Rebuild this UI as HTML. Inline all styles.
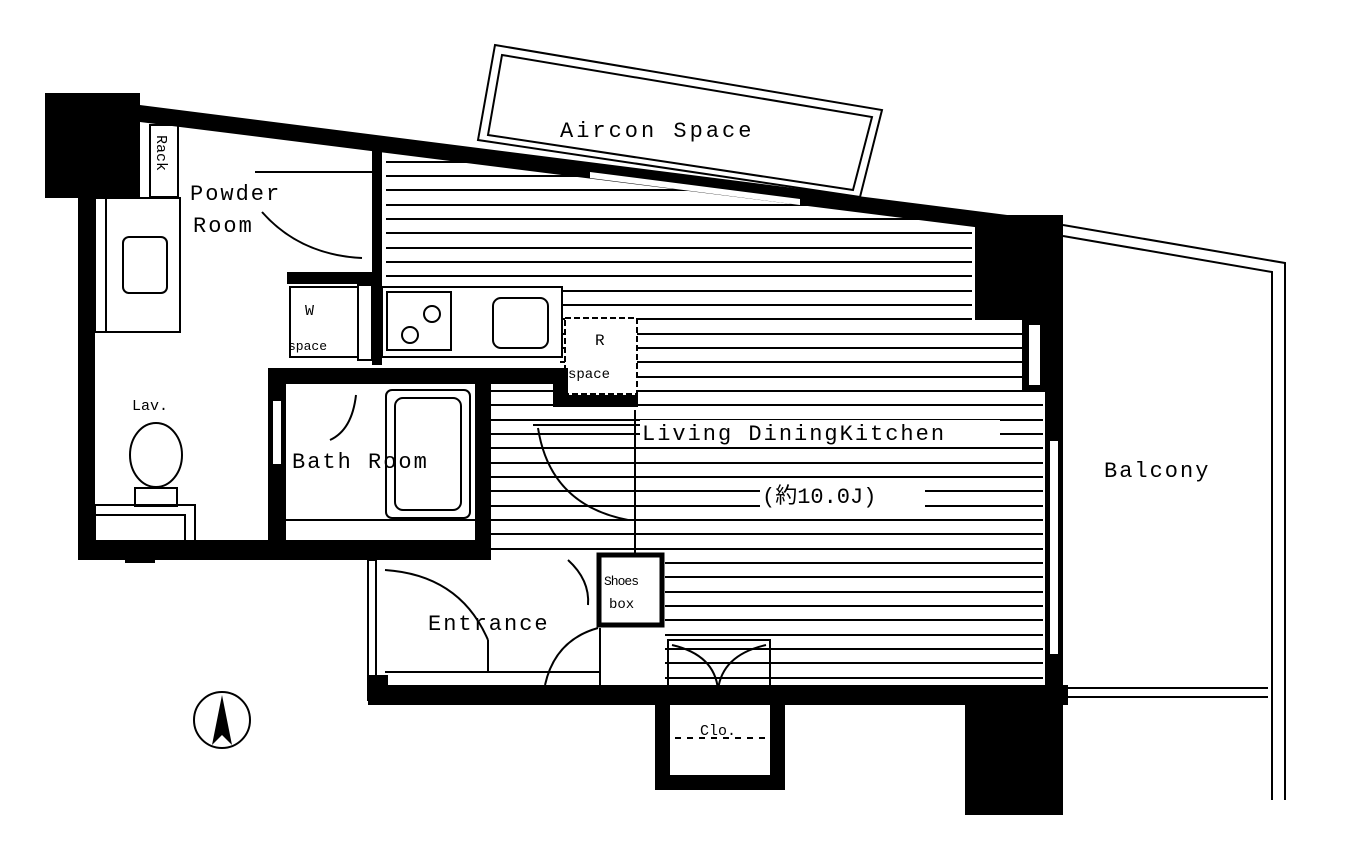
<!DOCTYPE html>
<html><head><meta charset="utf-8"><style>
html,body{margin:0;padding:0;background:#fff;}
svg{display:block;font-family:"Liberation Mono",monospace;}
text{fill:#000;}
</style></head><body>
<svg width="1363" height="867" viewBox="0 0 1363 867" xmlns="http://www.w3.org/2000/svg">
<defs>
<clipPath id="st">
<polygon points="386,150 972,225 972,320 1043,320 1043,690 665,690 665,555 490,555 490,380 560,380 560,355 386,355"/>
</clipPath>
</defs>
<rect width="1363" height="867" fill="#fff"/>
<g clip-path="url(#st)" stroke="#000" stroke-width="2">
<line x1="380" y1="162" x2="1050" y2="162"/><line x1="380" y1="176" x2="1050" y2="176"/>
<line x1="380" y1="190" x2="1050" y2="190"/><line x1="380" y1="205" x2="1050" y2="205"/>
<line x1="380" y1="219" x2="1050" y2="219"/><line x1="380" y1="233" x2="1050" y2="233"/>
<line x1="380" y1="248" x2="1050" y2="248"/><line x1="380" y1="262" x2="1050" y2="262"/>
<line x1="380" y1="276" x2="1050" y2="276"/><line x1="380" y1="291" x2="1050" y2="291"/>
<line x1="380" y1="305" x2="1050" y2="305"/><line x1="380" y1="319" x2="1050" y2="319"/>
<line x1="380" y1="334" x2="1050" y2="334"/><line x1="380" y1="348" x2="1050" y2="348"/>
<line x1="380" y1="362" x2="1050" y2="362"/><line x1="380" y1="377" x2="1050" y2="377"/>
<line x1="380" y1="391" x2="1050" y2="391"/><line x1="380" y1="405" x2="1050" y2="405"/>
<line x1="380" y1="420" x2="1050" y2="420"/><line x1="380" y1="434" x2="1050" y2="434"/>
<line x1="380" y1="448" x2="1050" y2="448"/><line x1="380" y1="463" x2="1050" y2="463"/>
<line x1="380" y1="477" x2="1050" y2="477"/><line x1="380" y1="491" x2="1050" y2="491"/>
<line x1="380" y1="506" x2="1050" y2="506"/><line x1="380" y1="520" x2="1050" y2="520"/>
<line x1="380" y1="534" x2="1050" y2="534"/><line x1="380" y1="549" x2="1050" y2="549"/>
<line x1="380" y1="563" x2="1050" y2="563"/><line x1="380" y1="577" x2="1050" y2="577"/>
<line x1="380" y1="592" x2="1050" y2="592"/><line x1="380" y1="606" x2="1050" y2="606"/>
<line x1="380" y1="620" x2="1050" y2="620"/><line x1="380" y1="635" x2="1050" y2="635"/>
<line x1="380" y1="649" x2="1050" y2="649"/><line x1="380" y1="663" x2="1050" y2="663"/>
<line x1="380" y1="678" x2="1050" y2="678"/>
</g>
<rect x="640" y="420" width="360" height="26" fill="#fff"/>
<rect x="760" y="482" width="165" height="26" fill="#fff"/>
<rect x="382" y="287" width="180" height="70" fill="#fff" stroke="#000" stroke-width="2"/>
<rect x="387" y="292" width="64" height="58" fill="none" stroke="#000" stroke-width="2"/>
<circle cx="410" cy="335" r="8" fill="none" stroke="#000" stroke-width="2"/>
<circle cx="432" cy="314" r="8" fill="none" stroke="#000" stroke-width="2"/>
<rect x="493" y="298" width="55" height="50" rx="8" fill="none" stroke="#000" stroke-width="2"/>
<rect x="565" y="318" width="72" height="76" fill="#fff" stroke="#000" stroke-width="2" stroke-dasharray="6,3"/>
<text x="595" y="345" font-size="16">R</text>
<text x="568" y="378" font-size="14">space</text>
<polygon points="495,45 882,110 860,197 478,140" fill="none" stroke="#000" stroke-width="2"/>
<polygon points="502,55 872,117 853,190 488,135" fill="none" stroke="#000" stroke-width="2"/>
<text x="560" y="137" font-size="22" letter-spacing="3">Aircon Space</text>
<polygon points="45,93 1062,222 1062,238 45,110" fill="#000"/>
<polygon points="590,172 800,199 800,205 590,178" fill="#fff"/>
<rect x="45" y="93" width="95" height="105" fill="#000"/>
<rect x="975" y="215" width="88" height="105" fill="#000"/>
<rect x="1022" y="320" width="23" height="72" fill="#000"/>
<rect x="1029" y="325" width="11" height="60" fill="#fff"/>
<rect x="1045" y="320" width="18" height="370" fill="#000"/>
<rect x="1049" y="440" width="10" height="215" fill="#fff" stroke="#000" stroke-width="2"/>
<rect x="78" y="195" width="17" height="360" fill="#000"/>
<rect x="78" y="540" width="412" height="20" fill="#000"/>
<rect x="125" y="548" width="30" height="15" fill="#000"/>
<rect x="150" y="125" width="28" height="72" fill="none" stroke="#000" stroke-width="2"/>
<text x="157" y="135" font-size="15" transform="rotate(90 157 135)">Rack</text>
<rect x="95" y="198" width="85" height="134" fill="none" stroke="#000" stroke-width="2"/>
<line x1="106" y1="198" x2="106" y2="332" stroke="#000" stroke-width="2"/>
<rect x="123" y="237" width="44" height="56" rx="6" fill="none" stroke="#000" stroke-width="2"/>
<text x="190" y="200" font-size="22" letter-spacing="2">Powder</text>
<text x="193" y="232" font-size="22" letter-spacing="2">Room</text>
<rect x="372" y="150" width="10" height="215" fill="#000"/>
<line x1="255" y1="172" x2="372" y2="172" stroke="#000" stroke-width="2"/>
<path d="M262,212 Q300,255 362,258" fill="none" stroke="#000" stroke-width="2"/>
<rect x="287" y="272" width="90" height="12" fill="#000"/>
<rect x="290" y="287" width="68" height="70" fill="none" stroke="#000" stroke-width="2"/>
<text x="305" y="315" font-size="15">W</text>
<text x="288" y="350" font-size="13">space</text>
<rect x="358" y="285" width="14" height="75" fill="none" stroke="#000" stroke-width="2"/>
<text x="132" y="410" font-size="15">Lav.</text>
<ellipse cx="156" cy="455" rx="26" ry="32" fill="none" stroke="#000" stroke-width="2"/>
<rect x="135" y="488" width="42" height="18" fill="none" stroke="#000" stroke-width="2"/>
<rect x="95" y="505" width="100" height="38" fill="none" stroke="#000" stroke-width="2"/>
<rect x="95" y="515" width="90" height="28" fill="none" stroke="#000" stroke-width="2"/>
<rect x="268" y="368" width="18" height="192" fill="#000"/>
<rect x="268" y="368" width="290" height="16" fill="#000"/>
<rect x="553" y="368" width="15" height="30" fill="#000"/>
<rect x="553" y="395" width="85" height="12" fill="#000"/>
<rect x="475" y="368" width="16" height="192" fill="#000"/>
<rect x="272" y="400" width="10" height="65" fill="#fff" stroke="#000" stroke-width="2"/>
<path d="M356,395 Q352,430 330,440" fill="none" stroke="#000" stroke-width="2"/>
<rect x="386" y="390" width="84" height="128" rx="6" fill="none" stroke="#000" stroke-width="2"/>
<rect x="395" y="398" width="66" height="112" rx="8" fill="none" stroke="#000" stroke-width="2"/>
<line x1="286" y1="520" x2="475" y2="520" stroke="#000" stroke-width="2"/>
<text x="292" y="468" font-size="22" letter-spacing="2">Bath Room</text>
<line x1="533" y1="425" x2="640" y2="425" stroke="#000" stroke-width="2"/>
<path d="M538,428 Q550,505 628,520" fill="none" stroke="#000" stroke-width="2"/>
<line x1="635" y1="410" x2="635" y2="555" stroke="#000" stroke-width="2"/>
<text x="642" y="440" font-size="22" letter-spacing="2">Living DiningKitchen</text>
<text x="762" y="503" font-size="22" font-family="Liberation Mono, Noto Sans CJK JP, monospace">(約10.0J)</text>
<text x="1104" y="477" font-size="22" letter-spacing="2">Balcony</text>
<polyline points="1063,225 1285,263 1285,800" fill="none" stroke="#000" stroke-width="2"/>
<polyline points="1063,236 1272,272 1272,800" fill="none" stroke="#000" stroke-width="2"/>
<line x1="1063" y1="688" x2="1268" y2="688" stroke="#000" stroke-width="2"/>
<line x1="1063" y1="697" x2="1268" y2="697" stroke="#000" stroke-width="2"/>
<rect x="368" y="560" width="8" height="140" fill="#fff" stroke="#000" stroke-width="2"/>
<rect x="368" y="685" width="700" height="20" fill="#000"/>
<rect x="368" y="675" width="20" height="15" fill="#000"/>
<rect x="599" y="555" width="63" height="70" fill="#fff" stroke="#000" stroke-width="5"/>
<text x="604" y="585" font-size="13" letter-spacing="-1">Shoes</text>
<text x="609" y="608" font-size="14">box</text>
<line x1="600" y1="628" x2="600" y2="690" stroke="#000" stroke-width="2"/>
<line x1="385" y1="672" x2="600" y2="672" stroke="#000" stroke-width="2"/>
<path d="M385,570 Q460,575 488,640 M488,640 L488,672" fill="none" stroke="#000" stroke-width="2"/>
<path d="M545,685 Q555,640 598,628" fill="none" stroke="#000" stroke-width="2"/>
<path d="M568,560 Q590,580 588,605" fill="none" stroke="#000" stroke-width="2"/>
<text x="428" y="630" font-size="22" letter-spacing="2">Entrance</text>
<rect x="655" y="690" width="15" height="100" fill="#000"/>
<rect x="770" y="690" width="15" height="100" fill="#000"/>
<rect x="655" y="775" width="130" height="15" fill="#000"/>
<rect x="668" y="640" width="102" height="50" fill="none" stroke="#000" stroke-width="2"/>
<path d="M672,645 Q715,655 718,690 M766,645 Q722,655 718,690" fill="none" stroke="#000" stroke-width="2"/>
<text x="700" y="735" font-size="15">Clo.</text>
<line x1="675" y1="738" x2="765" y2="738" stroke="#000" stroke-width="2" stroke-dasharray="6,6"/>
<rect x="965" y="690" width="98" height="125" fill="#000"/>
<circle cx="222" cy="720" r="28" fill="none" stroke="#000" stroke-width="2"/>
<polygon points="222,695 232,745 222,735 212,745" fill="#000"/>
</svg>
</body></html>
